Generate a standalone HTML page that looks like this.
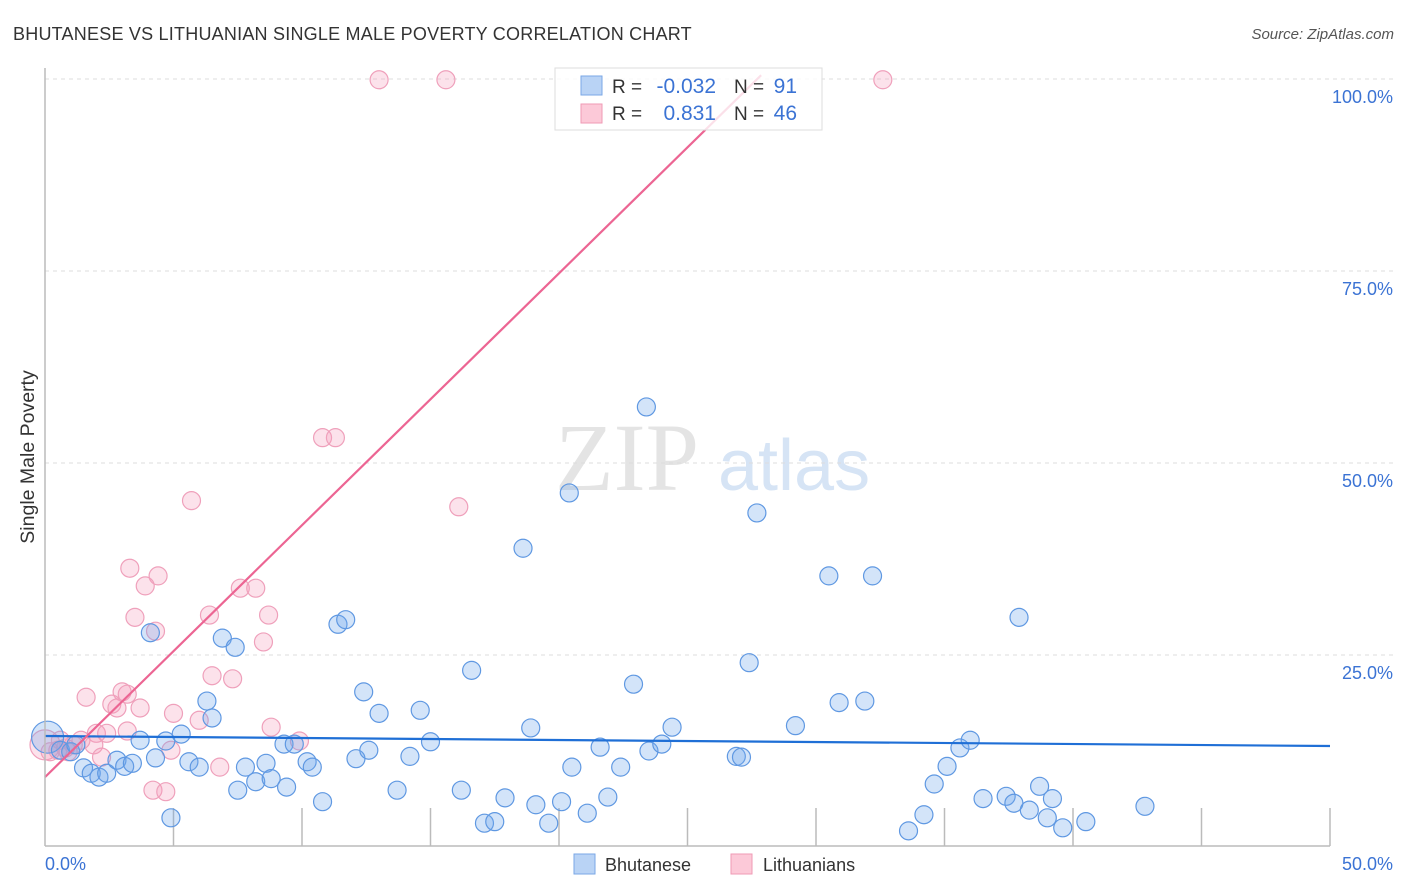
<!DOCTYPE html>
<html><head><meta charset="utf-8"><style>
body{margin:0;background:#fff;font-family:"Liberation Sans",sans-serif;}
#c{position:relative;width:1406px;height:892px;overflow:hidden;}
</style></head><body>
<div id="c">
<svg id="s" width="1406" height="892" xmlns="http://www.w3.org/2000/svg">
<text x="13" y="40" font-size="18" fill="#333" letter-spacing="0.22">BHUTANESE VS LITHUANIAN SINGLE MALE POVERTY CORRELATION CHART</text>
<text x="1394" y="39" font-size="15" fill="#555" font-style="italic" text-anchor="end">Source: ZipAtlas.com</text>
<text x="0" y="0" transform="translate(34,457) rotate(-90)" font-size="19.5" fill="#333" text-anchor="middle">Single Male Poverty</text>
<text x="555" y="490" font-size="96" fill="#e4e4e4" font-family="Liberation Serif,serif">ZIP</text>
<text x="718" y="490" font-size="72" fill="#d6e4f5">atlas</text>
<g id="grid"></g><g id="pts"></g><g id="lines"></g>
<line x1="45" y1="68" x2="45" y2="846" stroke="#bbb" stroke-width="1.5"/>
<line x1="45" y1="846" x2="1330" y2="846" stroke="#bbb" stroke-width="1.5"/>
<text x="45" y="870" font-size="18" fill="#3b73d4">0.0%</text>
<text x="1393" y="870" font-size="18" fill="#3b73d4" text-anchor="end">50.0%</text>
<g>
<rect x="555" y="68" width="267" height="62" fill="rgba(255,255,255,0.8)" stroke="#ddd"/>
<rect x="581" y="76" width="21" height="19" fill="#b9d3f5" stroke="#7aa7e6"/>
<rect x="581" y="104" width="21" height="19" fill="#fcc9d8" stroke="#ef9ab5"/>
<text x="612" y="93" font-size="19" fill="#333">R =</text>
<text x="716" y="93" font-size="21" fill="#3b73d4" text-anchor="end">-0.032</text>
<text x="734" y="93" font-size="19" fill="#333">N =</text>
<text x="797" y="93" font-size="21" fill="#3b73d4" text-anchor="end">91</text>
<text x="612" y="120" font-size="19" fill="#333">R =</text>
<text x="716" y="120" font-size="21" fill="#3b73d4" text-anchor="end">0.831</text>
<text x="734" y="120" font-size="19" fill="#333">N =</text>
<text x="797" y="120" font-size="21" fill="#3b73d4" text-anchor="end">46</text>
</g>
<g>
<rect x="574" y="854" width="21" height="20" fill="#b9d3f5" stroke="#7aa7e6"/>
<text x="605" y="871" font-size="18" fill="#333">Bhutanese</text>
<rect x="731" y="854" width="21" height="20" fill="#fcc9d8" stroke="#ef9ab5"/>
<text x="763" y="871" font-size="18" fill="#333">Lithuanians</text>
</g>
</svg>
</div>
<script>
const yTicks=[25,50,75,100];
const yTickLabels=["25.0%","50.0%","75.0%","100.0%"];
const xTicks=[5,10,15,20,25,30,35,40,45,50];
const blueX=[0.1,0.6,1.0,1.2,1.5,1.8,2.1,2.4,2.8,3.1,3.4,3.7,4.1,4.3,4.7,4.9,5.3,5.6,6.0,6.3,6.5,6.9,7.4,7.5,7.8,8.2,8.6,8.8,9.3,9.4,9.7,10.2,10.4,10.8,11.4,11.7,12.1,12.4,12.6,13.0,13.7,14.2,14.6,15.0,16.2,16.6,17.1,17.5,17.9,18.6,18.9,19.1,19.6,20.1,20.4,20.5,21.1,21.6,21.9,22.4,22.9,23.4,23.5,24.0,24.4,26.9,27.1,27.4,27.7,29.2,30.5,30.9,31.9,32.2,33.6,34.2,34.6,35.1,35.6,36.0,36.5,37.4,37.7,37.9,38.3,38.7,39.0,39.2,39.6,40.5,42.8];
const blueY=[14.3,12.6,12.4,13.3,10.3,9.6,9.1,9.6,11.3,10.5,10.9,13.9,27.9,11.6,13.8,3.8,14.7,11.1,10.4,19.0,16.8,27.2,26.0,7.4,10.4,8.5,10.9,8.9,13.4,7.8,13.4,11.1,10.4,5.9,29.0,29.6,11.5,20.2,12.6,17.4,7.4,11.8,17.8,13.7,7.4,23.0,3.1,3.3,6.4,38.9,15.5,5.5,3.1,5.9,46.1,10.4,4.4,13.0,6.5,10.4,21.2,57.3,12.5,13.4,15.6,11.8,11.7,24.0,43.5,15.8,35.3,18.8,19.0,35.3,2.1,4.2,8.2,10.5,12.9,13.9,6.3,6.6,5.7,29.9,4.8,7.9,3.8,6.3,2.5,3.3,5.3];
const pinkX=[0,13.0,15.6,32.6,10.8,11.3,5.7,16.1,3.3,4.4,3.9,7.6,8.2,3.5,4.3,6.4,8.7,8.5,1.6,6.5,7.3,3.0,3.2,2.6,2.8,3.7,5.0,6.0,8.8,2.0,2.4,9.9,0.6,1.1,1.9,0.2,0.5,0.9,2.2,4.9,6.8,4.2,4.7,1.4,3.2,0.8];
const pinkY=[13.3,99.9,99.9,99.9,53.3,53.3,45.1,44.3,36.3,35.3,34.0,33.7,33.7,29.9,28.1,30.2,30.2,26.7,19.5,22.3,21.9,20.2,19.9,18.6,18.1,18.1,17.4,16.5,15.6,14.8,14.8,13.8,13.9,13.3,13.3,12.4,12.6,12.4,11.7,12.6,10.4,7.4,7.2,13.9,15.1,12.9];
const blueTrend=[14.45,13.15];
const pinkTrend=[9.1,3.28];
const NS="http://www.w3.org/2000/svg";
const xs=v=>45+v/50*1285, ys=v=>847-v*7.68;
function mk(t,a,p){const e=document.createElementNS(NS,t);for(const k in a)e.setAttribute(k,a[k]);p.appendChild(e);return e;}
const grid=document.getElementById('grid');
yTicks.forEach((t,i)=>{
 const l=mk('line',{x1:45,x2:1395,y1:ys(t),y2:ys(t),stroke:'#ddd','stroke-dasharray':'4,4'},grid);
 
 
 const tx=mk('text',{x:1393,y:ys(t)+24,'font-size':18,fill:'#3b73d4','text-anchor':'end'},grid);
 tx.textContent=yTickLabels[i];
 
 
});
xTicks.forEach(t=>{
 const l=mk('line',{x1:xs(t),x2:xs(t),y1:808,y2:846,stroke:'#bbb','stroke-width':1.5},grid);
 
 
});
const pts=document.getElementById('pts');
pinkX.forEach((x,i)=>{
 const c=mk('circle',{cx:xs(x),cy:ys(pinkY[i]),r:i==0?15:9,fill:'rgba(245,160,190,0.3)',stroke:'#efa0bb','stroke-width':1.2},pts);
 
 
});
blueX.forEach((x,i)=>{
 const c=mk('circle',{cx:xs(x),cy:ys(blueY[i]),r:i==0?16:9,fill:'rgba(110,165,235,0.3)',stroke:'#5f98e2','stroke-width':1.2},pts);
 
 
});
const lines=document.getElementById('lines');
const bl=mk('line',{x1:xs(0),y1:ys(blueTrend[0]),x2:xs(50),y2:ys(blueTrend[1]),stroke:'#1f6fd6','stroke-width':2.2},lines);


const xe=(100.5-pinkTrend[0])/pinkTrend[1];
const pl=mk('line',{x1:xs(0),y1:ys(pinkTrend[0]),x2:xs(xe),y2:ys(pinkTrend[0]+pinkTrend[1]*xe),stroke:'#ec6593','stroke-width':2.2},lines);


</script>
</body></html>
